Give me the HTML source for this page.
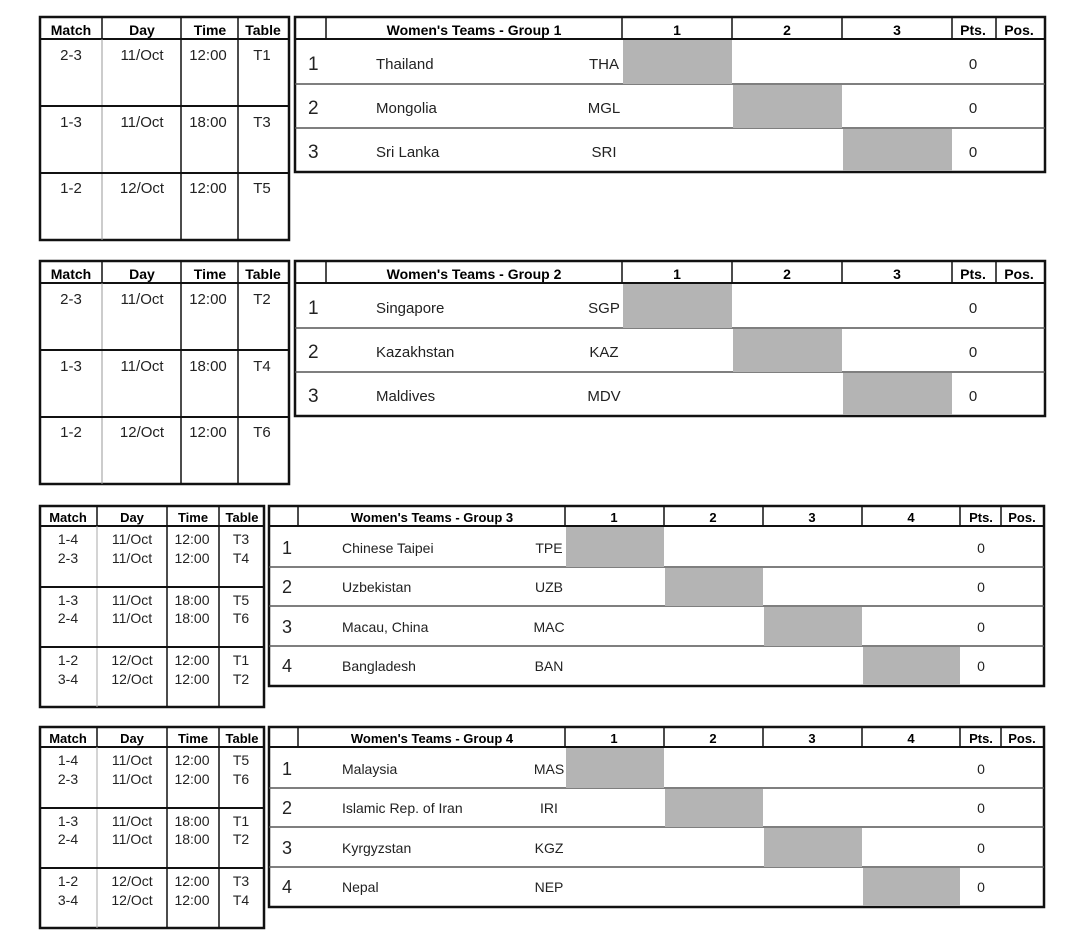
<!DOCTYPE html>
<html><head><meta charset="utf-8"><style>
html,body{margin:0;padding:0;background:#fff;}
svg{display:block;font-family:"Liberation Sans",sans-serif;}
.h{font-weight:bold;font-size:14px;}
.h3{font-weight:bold;font-size:13px;}
.t{font-size:15px;fill:#222;}
.t3{font-size:14px;fill:#222;}
.n{font-size:19px;fill:#222;}
</style></head><body>
<svg width="1080" height="939" viewBox="0 0 1080 939" xmlns="http://www.w3.org/2000/svg">
<defs>
<g id="sched1">
<rect x="40" y="17" width="249" height="223" fill="none" stroke="#111" stroke-width="2.5"/>
<line x1="40" y1="39" x2="289" y2="39" stroke="#111" stroke-width="2"/>
<line x1="102" y1="17" x2="102" y2="240" stroke="#999" stroke-width="1"/>
<line x1="102" y1="17" x2="102" y2="39" stroke="#111" stroke-width="1.5"/>
<line x1="181" y1="17" x2="181" y2="240" stroke="#111" stroke-width="1.5"/>
<line x1="238" y1="17" x2="238" y2="240" stroke="#111" stroke-width="1.5"/>
<line x1="40" y1="106" x2="289" y2="106" stroke="#111" stroke-width="2"/>
<line x1="40" y1="173" x2="289" y2="173" stroke="#111" stroke-width="2"/>
<g class="h" text-anchor="middle"><text x="71" y="35">Match</text><text x="142" y="35">Day</text><text x="210" y="35">Time</text><text x="263" y="35">Table</text></g>
<rect x="295" y="17" width="750" height="155" fill="none" stroke="#111" stroke-width="2.5"/>
<line x1="295" y1="39" x2="1045" y2="39" stroke="#111" stroke-width="2"/>
<g stroke="#111" stroke-width="1.5"><line x1="326" y1="17" x2="326" y2="39"/><line x1="622" y1="17" x2="622" y2="39"/><line x1="732" y1="17" x2="732" y2="39"/><line x1="842" y1="17" x2="842" y2="39"/><line x1="952" y1="17" x2="952" y2="39"/><line x1="996" y1="17" x2="996" y2="39"/></g>
<g stroke="#555" stroke-width="1.5"><line x1="295" y1="84" x2="1045" y2="84"/><line x1="295" y1="128" x2="1045" y2="128"/></g>
<rect x="623" y="40" width="109" height="44" fill="#b4b4b4"/>
<rect x="733" y="85" width="109" height="43" fill="#b4b4b4"/>
<rect x="843" y="129" width="109" height="42" fill="#b4b4b4"/>
<g class="h" text-anchor="middle"><text x="677" y="35">1</text><text x="787" y="35">2</text><text x="897" y="35">3</text><text x="973" y="35">Pts.</text><text x="1019" y="35">Pos.</text></g>
<g class="t" text-anchor="middle"><text x="973" y="69">0</text><text x="973" y="113">0</text><text x="973" y="157">0</text></g>
<g class="n"><text x="308" y="70">1</text><text x="308" y="114">2</text><text x="308" y="158">3</text></g>
</g>
<g id="sched3">
<rect x="40" y="506" width="224" height="201" fill="none" stroke="#111" stroke-width="2.5"/>
<line x1="40" y1="526" x2="264" y2="526" stroke="#111" stroke-width="2"/>
<line x1="97" y1="506" x2="97" y2="707" stroke="#aaa" stroke-width="1"/>
<line x1="97" y1="506" x2="97" y2="526" stroke="#111" stroke-width="1.5"/>
<line x1="167" y1="506" x2="167" y2="707" stroke="#111" stroke-width="1.5"/>
<line x1="219" y1="506" x2="219" y2="707" stroke="#111" stroke-width="1.5"/>
<line x1="40" y1="587" x2="264" y2="587" stroke="#111" stroke-width="2"/>
<line x1="40" y1="647" x2="264" y2="647" stroke="#111" stroke-width="2"/>
<g class="h3" text-anchor="middle"><text x="68" y="522">Match</text><text x="132" y="522">Day</text><text x="193" y="522">Time</text><text x="242" y="522">Table</text></g>
<rect x="269" y="506" width="775" height="180" fill="none" stroke="#111" stroke-width="2.5"/>
<line x1="269" y1="526" x2="1044" y2="526" stroke="#111" stroke-width="2"/>
<g stroke="#111" stroke-width="1.5"><line x1="298" y1="506" x2="298" y2="526"/><line x1="565" y1="506" x2="565" y2="526"/><line x1="664" y1="506" x2="664" y2="526"/><line x1="763" y1="506" x2="763" y2="526"/><line x1="862" y1="506" x2="862" y2="526"/><line x1="960" y1="506" x2="960" y2="526"/><line x1="1001" y1="506" x2="1001" y2="526"/></g>
<g stroke="#555" stroke-width="1.5"><line x1="269" y1="567" x2="1044" y2="567"/><line x1="269" y1="606" x2="1044" y2="606"/><line x1="269" y1="646" x2="1044" y2="646"/></g>
<rect x="566" y="527" width="98" height="40" fill="#b4b4b4"/>
<rect x="665" y="568" width="98" height="38" fill="#b4b4b4"/>
<rect x="764" y="607" width="98" height="39" fill="#b4b4b4"/>
<rect x="863" y="647" width="97" height="38" fill="#b4b4b4"/>
<g class="h3" text-anchor="middle"><text x="614" y="522">1</text><text x="713" y="522">2</text><text x="812" y="522">3</text><text x="911" y="522">4</text><text x="981" y="522">Pts.</text><text x="1022" y="522">Pos.</text></g>
<g class="t3" text-anchor="middle"><text x="981" y="553">0</text><text x="981" y="592">0</text><text x="981" y="632">0</text><text x="981" y="671">0</text></g>
<g class="n" style="font-size:18px"><text x="282" y="554">1</text><text x="282" y="593">2</text><text x="282" y="633">3</text><text x="282" y="672">4</text></g>
</g>
</defs>

<!-- Group 1 -->
<use href="#sched1"/>
<text class="h" x="474" y="35" text-anchor="middle">Women's Teams - Group 1</text>
<g class="t" text-anchor="middle">
<text x="71" y="60">2-3</text><text x="142" y="60">11/Oct</text><text x="208" y="60">12:00</text><text x="262" y="60">T1</text>
<text x="71" y="127">1-3</text><text x="142" y="127">11/Oct</text><text x="208" y="127">18:00</text><text x="262" y="127">T3</text>
<text x="71" y="193">1-2</text><text x="142" y="193">12/Oct</text><text x="208" y="193">12:00</text><text x="262" y="193">T5</text>
<text x="604" y="69">THA</text><text x="604" y="113">MGL</text><text x="604" y="157">SRI</text>
</g>
<g class="t"><text x="376" y="69">Thailand</text><text x="376" y="113">Mongolia</text><text x="376" y="157">Sri Lanka</text></g>

<!-- Group 2 -->
<g transform="translate(0,244)">
<use href="#sched1"/>
<text class="h" x="474" y="35" text-anchor="middle">Women's Teams - Group 2</text>
<g class="t" text-anchor="middle">
<text x="71" y="60">2-3</text><text x="142" y="60">11/Oct</text><text x="208" y="60">12:00</text><text x="262" y="60">T2</text>
<text x="71" y="127">1-3</text><text x="142" y="127">11/Oct</text><text x="208" y="127">18:00</text><text x="262" y="127">T4</text>
<text x="71" y="193">1-2</text><text x="142" y="193">12/Oct</text><text x="208" y="193">12:00</text><text x="262" y="193">T6</text>
<text x="604" y="69">SGP</text><text x="604" y="113">KAZ</text><text x="604" y="157">MDV</text>
</g>
<g class="t"><text x="376" y="69">Singapore</text><text x="376" y="113">Kazakhstan</text><text x="376" y="157">Maldives</text></g>
</g>

<!-- Group 3 -->
<use href="#sched3"/>
<text class="h3" x="432" y="522" text-anchor="middle">Women's Teams - Group 3</text>
<g class="t3" text-anchor="middle">
<text x="68" y="544">1-4</text><text x="132" y="544">11/Oct</text><text x="192" y="544">12:00</text><text x="241" y="544">T3</text>
<text x="68" y="563">2-3</text><text x="132" y="563">11/Oct</text><text x="192" y="563">12:00</text><text x="241" y="563">T4</text>
<text x="68" y="605">1-3</text><text x="132" y="605">11/Oct</text><text x="192" y="605">18:00</text><text x="241" y="605">T5</text>
<text x="68" y="623">2-4</text><text x="132" y="623">11/Oct</text><text x="192" y="623">18:00</text><text x="241" y="623">T6</text>
<text x="68" y="665">1-2</text><text x="132" y="665">12/Oct</text><text x="192" y="665">12:00</text><text x="241" y="665">T1</text>
<text x="68" y="684">3-4</text><text x="132" y="684">12/Oct</text><text x="192" y="684">12:00</text><text x="241" y="684">T2</text>
<text x="549" y="553">TPE</text><text x="549" y="592">UZB</text><text x="549" y="632">MAC</text><text x="549" y="671">BAN</text>
</g>
<g class="t3"><text x="342" y="553">Chinese Taipei</text><text x="342" y="592">Uzbekistan</text><text x="342" y="632">Macau, China</text><text x="342" y="671">Bangladesh</text></g>

<!-- Group 4 -->
<g transform="translate(0,221)">
<use href="#sched3"/>
<text class="h3" x="432" y="522" text-anchor="middle">Women's Teams - Group 4</text>
<g class="t3" text-anchor="middle">
<text x="68" y="544">1-4</text><text x="132" y="544">11/Oct</text><text x="192" y="544">12:00</text><text x="241" y="544">T5</text>
<text x="68" y="563">2-3</text><text x="132" y="563">11/Oct</text><text x="192" y="563">12:00</text><text x="241" y="563">T6</text>
<text x="68" y="605">1-3</text><text x="132" y="605">11/Oct</text><text x="192" y="605">18:00</text><text x="241" y="605">T1</text>
<text x="68" y="623">2-4</text><text x="132" y="623">11/Oct</text><text x="192" y="623">18:00</text><text x="241" y="623">T2</text>
<text x="68" y="665">1-2</text><text x="132" y="665">12/Oct</text><text x="192" y="665">12:00</text><text x="241" y="665">T3</text>
<text x="68" y="684">3-4</text><text x="132" y="684">12/Oct</text><text x="192" y="684">12:00</text><text x="241" y="684">T4</text>
<text x="549" y="553">MAS</text><text x="549" y="592">IRI</text><text x="549" y="632">KGZ</text><text x="549" y="671">NEP</text>
</g>
<g class="t3"><text x="342" y="553">Malaysia</text><text x="342" y="592">Islamic Rep. of Iran</text><text x="342" y="632">Kyrgyzstan</text><text x="342" y="671">Nepal</text></g>
</g>
</svg>
</body></html>
